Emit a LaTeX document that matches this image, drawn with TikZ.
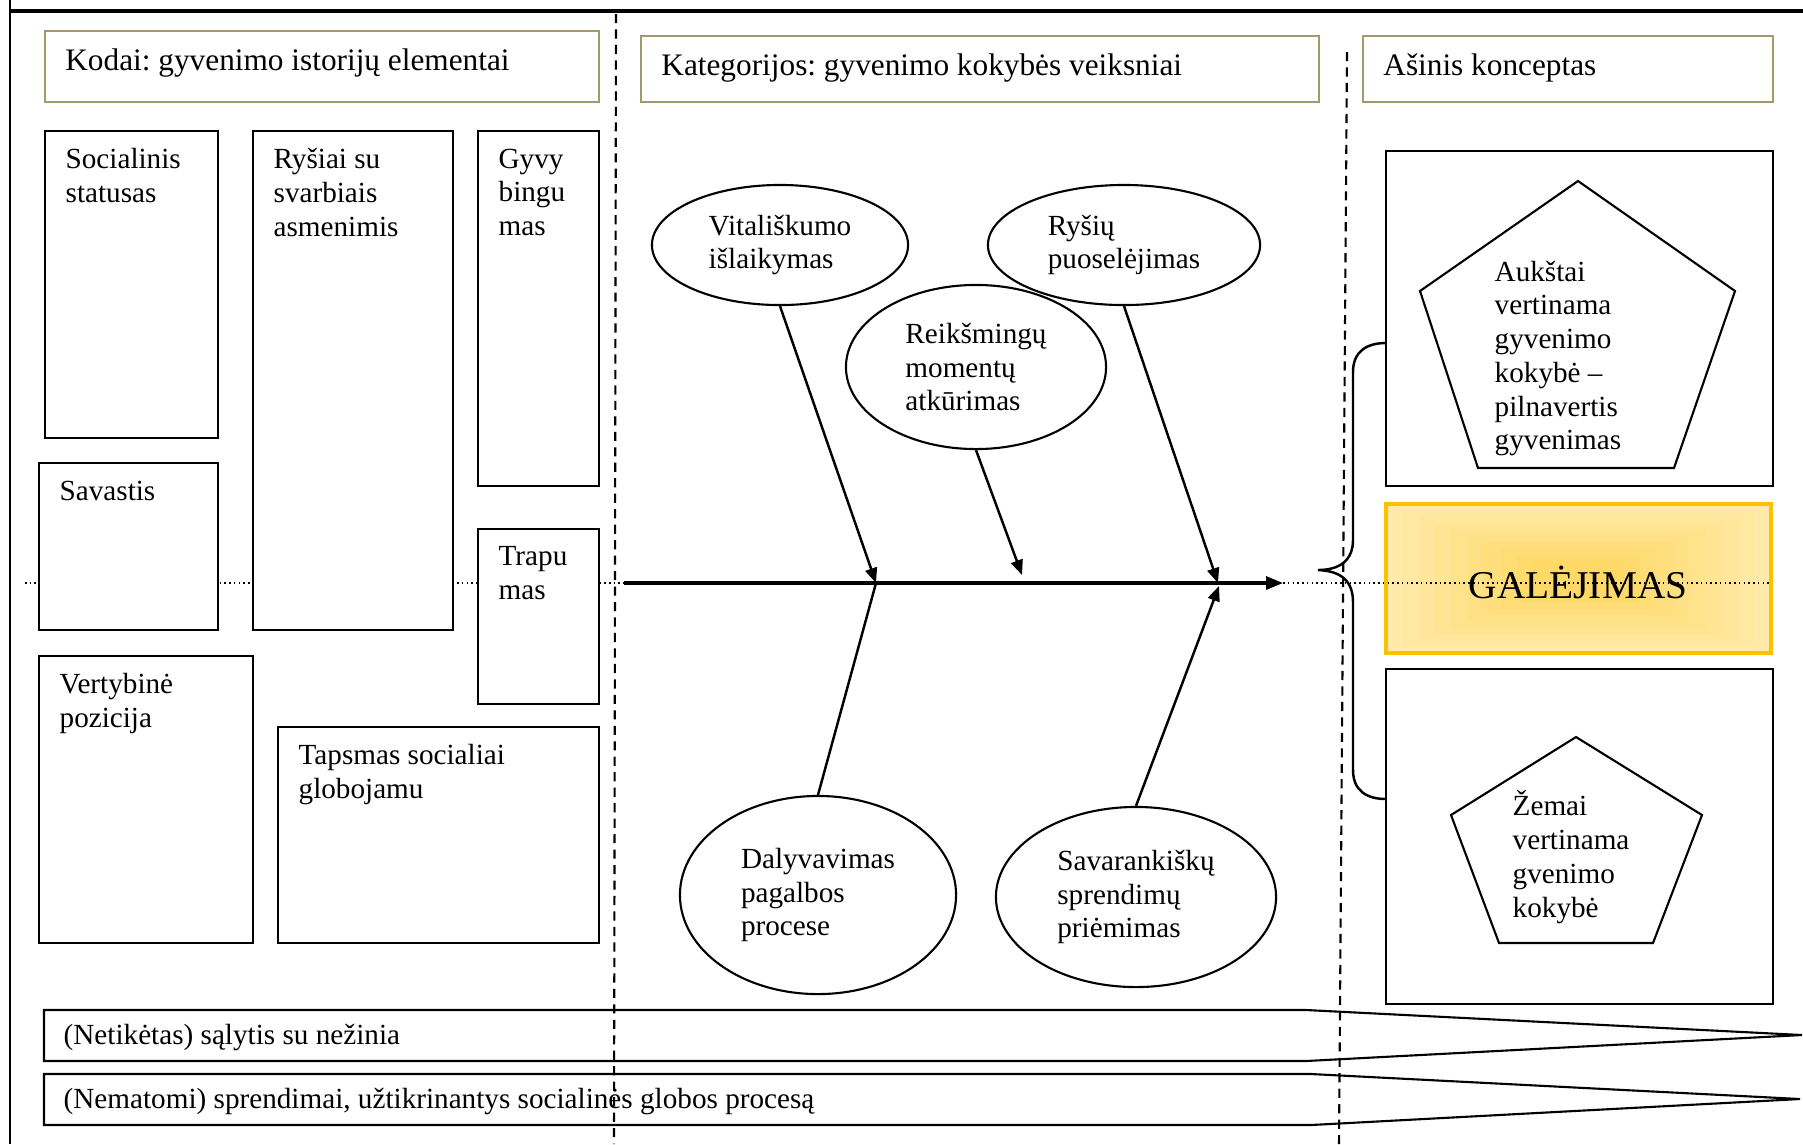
\documentclass[tikz,border=0pt]{standalone}
\usepackage{fontspec}
\setmainfont{Liberation Serif}
\usepackage{tikz}
\usetikzlibrary{positioning,arrows.meta,shapes.geometric,calc,fit}
\usepackage{xcolor}
\definecolor{olivebox}{HTML}{A29A6A}
\definecolor{gold}{HTML}{FFC000}
\definecolor{goldin}{HTML}{FFD966}
\definecolor{goldout}{HTML}{FFEAAA}

\newcommand{\txtsize}{\fontsize{8.3}{9.6}\selectfont}
\newcommand{\hdsize}{\fontsize{8.9}{10.2}\selectfont}
\frenchspacing

\begin{document}
\begin{tikzpicture}[x=0.01cm, y=-0.01cm,
    box/.style={draw, line width=0.6pt, fill=white, inner sep=0pt},
    hdbox/.style={draw=olivebox, line width=0.75pt, inner sep=0pt},
    boxtxt/.style={anchor=north west, align=left, inner xsep=0.21cm, inner ysep=0.18cm, font=\txtsize},
    hdtxt/.style={boxtxt, font=\hdsize},
    oval/.style={ellipse, draw, line width=0.6pt, fill=white, align=left, inner sep=0pt, font=\txtsize},
    bone/.style={line width=0.7pt, -{Triangle[length=0.15cm, width=0.12cm]}},
    divider/.style={dash pattern=on 2.6pt off 1.8pt, line width=0.6pt},
    guide/.style={dash pattern=on 0.45pt off 0.9pt, line width=0.45pt}
]
    \useasboundingbox (0,0) rectangle (1803,1144);

    % frame
    \draw[line width=0.9pt] (10,11) -- (1803,11);
    \draw[line width=0.6pt] (10,0) -- (10,1144);

    % GALEJIMAS background
    \foreach \i [evaluate=\i as \pc using int(\i*11)] in {0,...,9}
        \fill[goldin!\pc!goldout] ({1578.5-192.5*(1-0.085*\i)},{578.5-74.5*(1-0.085*\i)})
            rectangle ({1578.5+192.5*(1-0.085*\i)},{578.5+74.5*(1-0.085*\i)});

    % axis line
    \coordinate (gl) at (25,583);
    \coordinate (gr) at (1771,583);
    \draw[guide] (gl) -- (gr);

    % dividers
    \coordinate (d1t) at (616,14);
    \coordinate (d1b) at (614,1144);
    \coordinate (d2t) at (1347,52);
    \coordinate (d2b) at (1339,1144);
    \draw[divider] (d1t) -- (d1b);
    \draw[divider] (d2t) -- (d2b);

    % headers
    \node[hdbox, fit={(45,31) (599,102)}] (hcodes) {};
    \node[hdtxt] (hcodest) at (hcodes.north west) {Kodai: gyvenimo istorijų elementai};
    \node[hdbox, fit={(641,36) (1319,102)}] (hcats) {};
    \node[hdtxt] (hcatst) at (hcats.north west) {Kategorijos: gyvenimo kokybės veiksniai};
    \node[hdbox, fit={(1363,36) (1773,102)}] (haxis) {};
    \node[hdtxt] (haxist) at (haxis.north west) {Ašinis konceptas};

    % codes
    \node[box, fit={(45,131) (218,438)}] (soc) {};
    \node[boxtxt] (soct) at (soc.north west) {Socialinis\\statusas};
    \node[box, fit={(253,131) (453,630)}] (rys) {};
    \node[boxtxt] (ryst) at (rys.north west) {Ryšiai su\\svarbiais\\asmenimis};
    \node[box, fit={(478,131) (599,486)}] (gyv) {};
    \node[boxtxt] (gyvt) at (gyv.north west) {Gyvy\\bingu\\mas};
    \node[box, fit={(39,463) (218,630)}] (sav) {};
    \node[boxtxt] (savt) at (sav.north west) {Savastis};
    \node[box, fit={(478,529) (599,704)}] (trap) {};
    \node[boxtxt] (trapt) at (trap.north west) {Trapu\\mas};
    \node[box, fit={(39,656) (253,943)}] (vert) {};
    \node[boxtxt] (vertt) at (vert.north west) {Vertybinė\\pozicija};
    \node[box, fit={(278,727) (599,943)}] (taps) {};
    \node[boxtxt] (tapst) at (taps.north west) {Tapsmas socialiai\\globojamu};

    % fishbone
    \coordinate (tail) at (624,583);
    \coordinate (head) at (1283,583);
    \coordinate (j1) at (876,583);
    \coordinate (j2) at (1022,575);
    \coordinate (j3) at (1218,583);
    \coordinate (j4) at (1219,586);
    \draw[line width=0.9pt, -{Triangle[length=0.17cm, width=0.13cm]}] (tail) -- (head);

    \node[oval, minimum width=2.56cm, minimum height=1.2cm] (vit) at (780,245) {Vitališkumo\\išlaikymas};
    \node[oval, minimum width=2.6cm, minimum height=1.64cm] (reik) at (976,367) {Reikšmingų\\momentų\\atkūrimas};
    \node[oval, minimum width=2.72cm, minimum height=1.2cm] (rysiu) at (1124,245) {Ryšių\\puoselėjimas};
    \node[oval, minimum width=2.76cm, minimum height=1.98cm] (daly) at (818,895) {Dalyvavimas\\pagalbos\\procese};
    \node[oval, minimum width=2.8cm, minimum height=1.8cm] (savar) at (1136,897) {Savarankiškų\\sprendimų\\priėmimas};

    \draw[bone] (vit.south) -- (j1);
    \draw[line width=0.7pt] (daly.north) -- (j1);
    \draw[bone] (reik.south) -- (j2);
    \draw[bone] (rysiu.south) -- (j3);
    \draw[bone] (savar.north) -- (j4);

    % axial concept
    \node[box, fit={(1386,151) (1773,486)}] (high) {};
    \node[draw=gold, line width=0.9pt, inner sep=0pt, fit={(1386,504) (1771,653)}] (gal) {};
    \node[box, fit={(1386,669) (1773,1004)}] (low) {};
    \node[anchor=base, inner sep=0pt, font=\fontsize{11.2}{13}\selectfont] (galt) at (1578,598) {GALĖJIMAS};

    \draw[line width=0.6pt] (1578,181) -- (1735,291) -- (1674,468) -- (1478,468) -- (1420,291) -- cycle;
    \node[anchor=north west, align=left, inner sep=0pt, font=\txtsize] (hight) at (1494,260)
        {Aukštai\\vertinama\\gyvenimo\\kokybė –\\pilnavertis\\gyvenimas};
    \draw[line width=0.6pt] (1576,737) -- (1702,815) -- (1653,943) -- (1499,943) -- (1451,815) -- cycle;
    \node[anchor=north west, align=left, inner sep=0pt, font=\txtsize] (lowt) at (1512,790)
        {Žemai\\vertinama\\gvenimo\\kokybė};

    \draw[line width=0.7pt] (1386,343) .. controls (1366,343) and (1353,352) .. (1353,372)
        -- (1353,540) .. controls (1353,560) and (1340,570) .. (1318,570)
        .. controls (1340,571) and (1353,580) .. (1353,602)
        -- (1353,770) .. controls (1353,790) and (1366,799) .. (1386,799);

    % bottom bars
    \draw[line width=0.6pt] (44,1010) -- (1306,1010) -- (1802,1035) -- (1306,1061) -- (44,1061) -- cycle;
    \node[anchor=west, inner sep=0pt, font=\txtsize] (bar1) at (63,1037) {(Netikėtas) sąlytis su nežinia};
    \draw[line width=0.6pt] (44,1074) -- (1311,1074) -- (1800,1099) -- (1311,1125) -- (44,1125) -- cycle;
    \node[anchor=west, inner sep=0pt, font=\txtsize] (bar2) at (63,1101) {(Nematomi) sprendimai, užtikrinantys socialinės globos procesą};
\end{tikzpicture}
\end{document}
